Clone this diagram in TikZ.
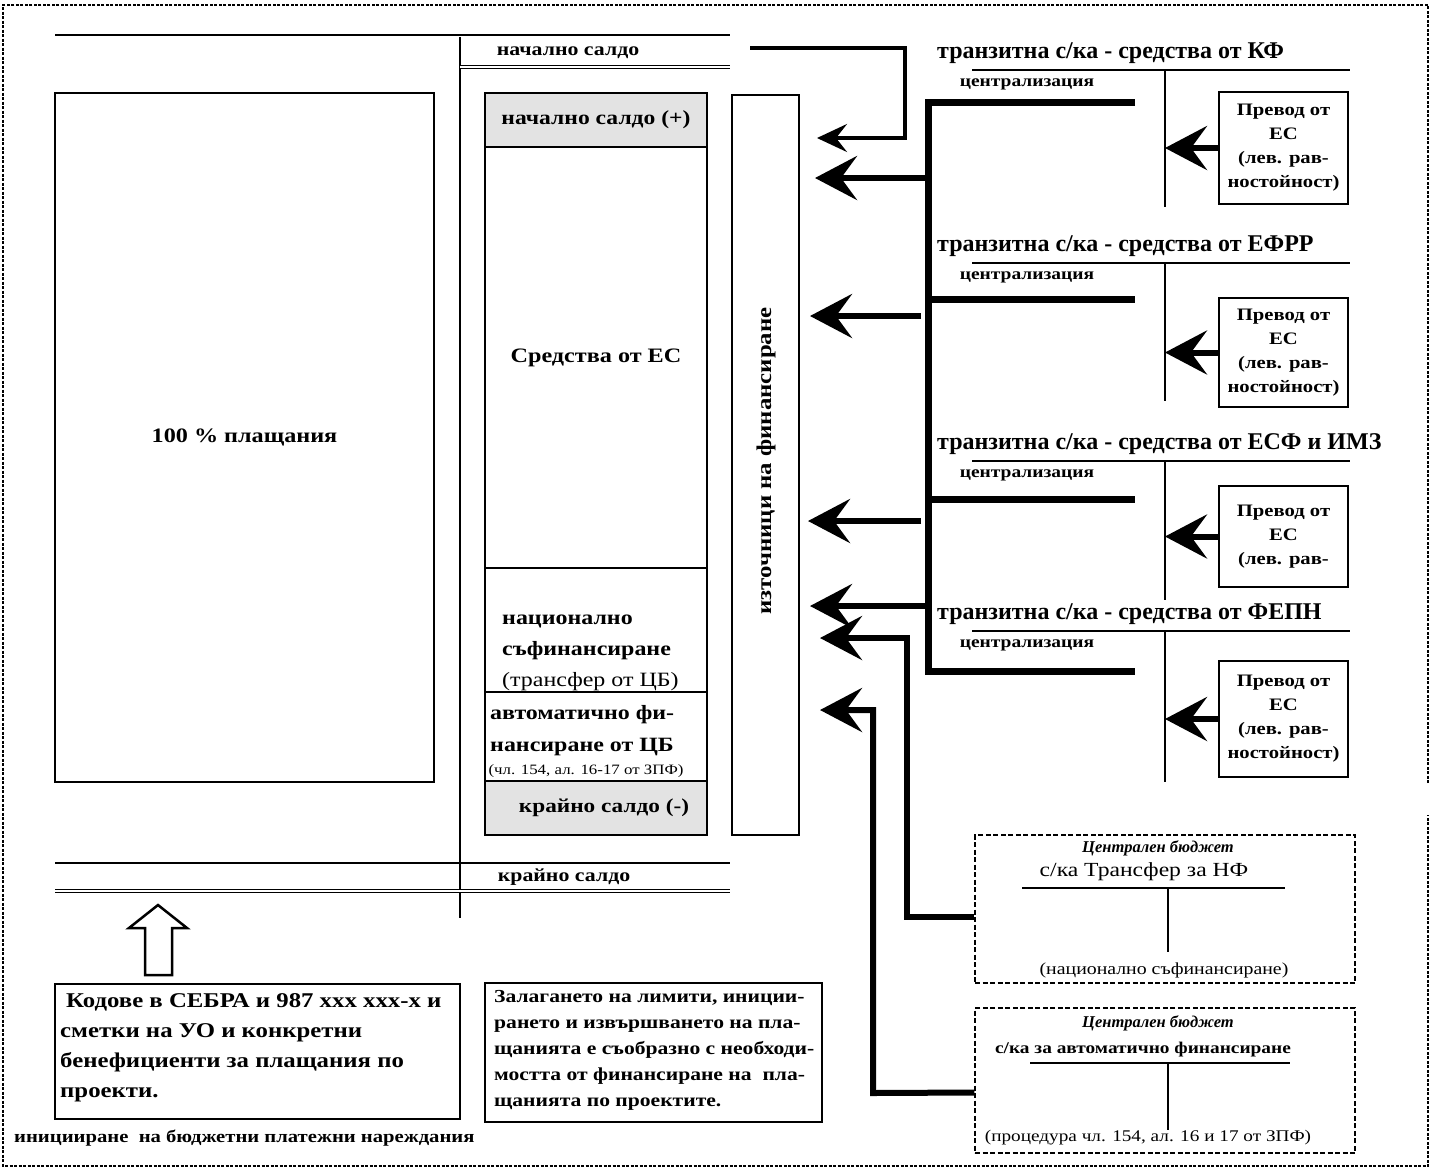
\documentclass[tikz,border=0pt]{standalone}
\usepackage{fontspec}
\setmainfont[FakeStretch=1.18]{Liberation Serif}
\newfontfamily\normalserif{Liberation Serif}
\usetikzlibrary{arrows.meta,calc}
\newcommand{\fs}[2]{\fontsize{#1}{#2}\selectfont}
\newcommand{\tgroup}[7]{%
  \node[anchor=west,inner sep=0pt,font=\normalserif\bfseries\fs{24}{26}] (t#1) at (937,#2) {транзитна с/ка - средства от #3};
  \coordinate (ua#1) at (972,#2+17);
  \coordinate (ub#1) at (1350,#2+17);
  \coordinate (va#1) at (1165,#2+17);
  \coordinate (vb#1) at (1165,#7);
  \draw[ln] (ua#1) -- (ub#1);
  \draw[ln] (va#1) -- (vb#1);
  \node[font=\bfseries\fs{16.5}{18},inner sep=0pt] (c#1) at (1027,#2+31) {централизация};
  \node[frame,minimum width=129pt,minimum height={(#5-#4)*1pt},align=center,font=\bfseries\fs{17.5}{24}] (b#1) at (1283.5,{(#4+#5)/2}) {#6};
  \draw[bigarr] (b#1.west) -- (b#1.west -| va#1);
}
\begin{document}
\begin{tikzpicture}[x=1pt,y=-1pt,
  ln/.style={line width=1.5pt},
  frame/.style={draw,line width=1.8pt,inner sep=0pt,rectangle},
  dframe/.style={draw,line width=1.5pt,dash pattern=on 5pt off 2.5pt,inner sep=0pt,rectangle},
  outer/.style={line width=1.5pt,dash pattern=on 3pt off 1.5pt},
  busln/.style={line width=7pt,line join=miter},
  bigarr/.style={line width=6pt,line join=miter,-{Stealth[length=42pt,width=44pt,inset=16pt]}},
  midarr/.style={line width=3.5pt,line join=miter,-{Stealth[length=30pt,width=28pt,inset=11pt]}},
  speck/.style={fill=black!11},
  dbl/.style={draw,double,double distance=1.6pt,line width=0.9pt}
]
\useasboundingbox (0,0) rectangle (1432,1171);
\draw[outer] (1428,783) -- (1428,5) -- (3,5) -- (3,1166) -- (1428,1166) -- (1428,815);

% ledger lines
\coordinate (tl) at (55,35); \coordinate (tr) at (730,35);
\draw[ln] (tl) -- (tr);
\coordinate (vt) at (460,37); \coordinate (vbt) at (460,918);
\draw[ln] (vt) -- (vbt);
\node[font=\bfseries\fs{18.5}{20},inner sep=0pt] (nsl) at (568,53) {начално салдо};
\draw[dbl] (460,67) -- (730,67);
\draw[ln] (55,863) -- (730,863);
\node[font=\bfseries\fs{18.5}{20},inner sep=0pt] (ksl) at (564,877) {крайно салдо};
\draw[dbl] (55,891) -- (730,891);

% big box
\node[frame,minimum width=379pt,minimum height=689pt,font=\bfseries\fs{20.5}{24}] (pay) at (244.5,437.5) {100 \% плащания};

% middle column
\node[frame,speck,minimum width=222pt,minimum height=54pt,font=\bfseries\fs{20}{24}] (ns) at (596,120) {начално салдо (+)};
\node[frame,minimum width=222pt,minimum height=421pt,font=\bfseries\fs{20.5}{24}] (ec) at (596,357.5) {Средства от ЕС};
\node[frame,minimum width=222pt,minimum height=124pt] (nat) at (596,630) {};
\node[anchor=west,align=left,inner sep=0pt,font=\bfseries\fs{20.3}{31}] (natt) at (502,653) {национално\\съфинансиране\\{\mdseries (трансфер от ЦБ)}};
\node[frame,minimum width=222pt,minimum height=89pt] (auto) at (596,736.5) {};
\node[anchor=west,align=left,inner sep=0pt,font=\bfseries\fs{20.3}{32}] (autot) at (490,731) {автоматично фи-\\нансиране от ЦБ};
\node[inner sep=0pt,font=\fs{14.3}{15}] (autol) at (586,771) {(чл. 154, ал. 16-17 от ЗПФ)};
\node[frame,speck,minimum width=222pt,minimum height=54pt] (ks) at (596,808) {};
\node[inner sep=0pt,font=\bfseries\fs{19.7}{24}] (kst) at (604,808) {крайно салдо (-)};

% sources box
\node[frame,minimum width=67pt,minimum height=740pt] (src) at (765.5,465) {};
\node[rotate=90,font=\bfseries\fs{21}{22},inner sep=0pt] (srct) at (766,461) {източници на финансиране};

% bus
\coordinate (c1e) at (1135,102);
\coordinate (bt) at (928,102);
\coordinate (bb) at (928,671);
\coordinate (c4e) at (1135,671);
\draw[busln] (c1e) -- (bt) -- (bb) -- (c4e);
\coordinate (j2) at (928,299); \coordinate (c2e) at (1135,299);
\coordinate (j3) at (928,499); \coordinate (c3e) at (1135,499);
\draw[busln] (j2) -- (c2e);
\draw[busln] (j3) -- (c3e);

% arrows into sources
\coordinate (s0) at (750,48);
\coordinate (in1) at (817,138);
\coordinate (in2) at (815,178);
\coordinate (in3) at (810,316);
\coordinate (in4) at (808,521);
\coordinate (in5) at (810,606);
\coordinate (in6) at (820,638);
\coordinate (in7) at (820,710);
\draw[midarr] (s0) -- (905,48) -- (905,138) -- (in1);
\draw[bigarr] (928,178) -- (in2);
\draw[bigarr] (921,316) -- (in3);
\draw[bigarr] (921,521) -- (in4);
\draw[bigarr] (928,606) -- (in5);

% central budget boxes
\node[dframe,minimum width=380pt,minimum height=148pt] (cb1) at (1165,909) {};
\node[font=\normalserif\bfseries\itshape\fs{16.5}{20},inner sep=0pt] (cb1a) at (1158,848) {Централен бюджет};
\node[font=\fs{20}{22},inner sep=0pt] (cb1b) at (1144,872) {с/ка Трансфер за НФ};
\draw[ln] (1022,888) -- (1285,888);
\draw[ln] (1168,888) -- (1168,952);
\node[font=\fs{16.8}{20},inner sep=0pt] (cb1c) at (1164,970) {(национално съфинансиране)};

\node[dframe,minimum width=380pt,minimum height=145pt] (cb2) at (1165,1080.5) {};
\node[font=\normalserif\bfseries\itshape\fs{16.5}{20},inner sep=0pt] (cb2a) at (1158,1023) {Централен бюджет};
\node[font=\bfseries\fs{16.4}{20},inner sep=0pt] (cb2b) at (1143,1050) {с/ка за автоматично финансиране};
\draw[ln] (1030,1063) -- (1290,1063);
\draw[ln] (1168,1063) -- (1168,1130);
\node[font=\fs{16.3}{18},inner sep=0pt] (cb2c) at (1148,1138) {(процедура чл. 154, ал. 16 и 17 от ЗПФ)};

\draw[bigarr] ($(cb1.west)+(0,8)$) -- (907,917) -- (907,638) -- (in6);
\draw[bigarr] ($(cb2.west)+(0,12)$) -- (873,1093) -- (873,710) -- (in7);

% transit groups
\tgroup{1}{53}{КФ}{92}{204}{Превод от\\ЕС\\(лев. рав-\\ностойност)}{207}
\tgroup{2}{246}{ЕФРР}{298}{407}{Превод от\\ЕС\\(лев. рав-\\ностойност)}{401}
\tgroup{3}{444}{ЕСФ и ИМЗ}{486}{587}{Превод от\\ЕС\\(лев. рав-}{600}
\tgroup{4}{614}{ФЕПН}{661}{777}{Превод от\\ЕС\\(лев. рав-\\ностойност)}{782}

% bottom
\draw[line width=2.5pt,line join=miter] (145,975) -- (145,928) -- (129,928) -- (158,905) -- (187,928) -- (172,928) -- (172,975) -- cycle;
\node[frame,minimum width=405pt,minimum height=135pt] (kod) at (257.5,1051.5) {};
\node[anchor=west,align=left,inner sep=0pt,font=\bfseries\fs{21}{30}] (kodt) at (60,1048) {\hspace{6pt}Кодове в СЕБРА и 987 xxx xxx-x и\\сметки на УО и конкретни\\бенефициенти за плащания по\\проекти.};
\node[frame,minimum width=337pt,minimum height=139pt] (zal) at (653.5,1052.5) {};
\node[anchor=west,align=left,inner sep=0pt,font=\bfseries\fs{18.3}{26}] (zalt) at (494,1050) {Залагането на лимити, иниции-\\рането и извършването на пла-\\щанията е съобразно с необходи-\\мостта от финансиране на\ \ пла-\\щанията по проектите.};
\node[anchor=west,inner sep=0pt,font=\bfseries\fs{17.5}{18}] (init) at (14,1138) {иницииране\ \ на бюджетни платежни нареждания};
\end{tikzpicture}
\end{document}
